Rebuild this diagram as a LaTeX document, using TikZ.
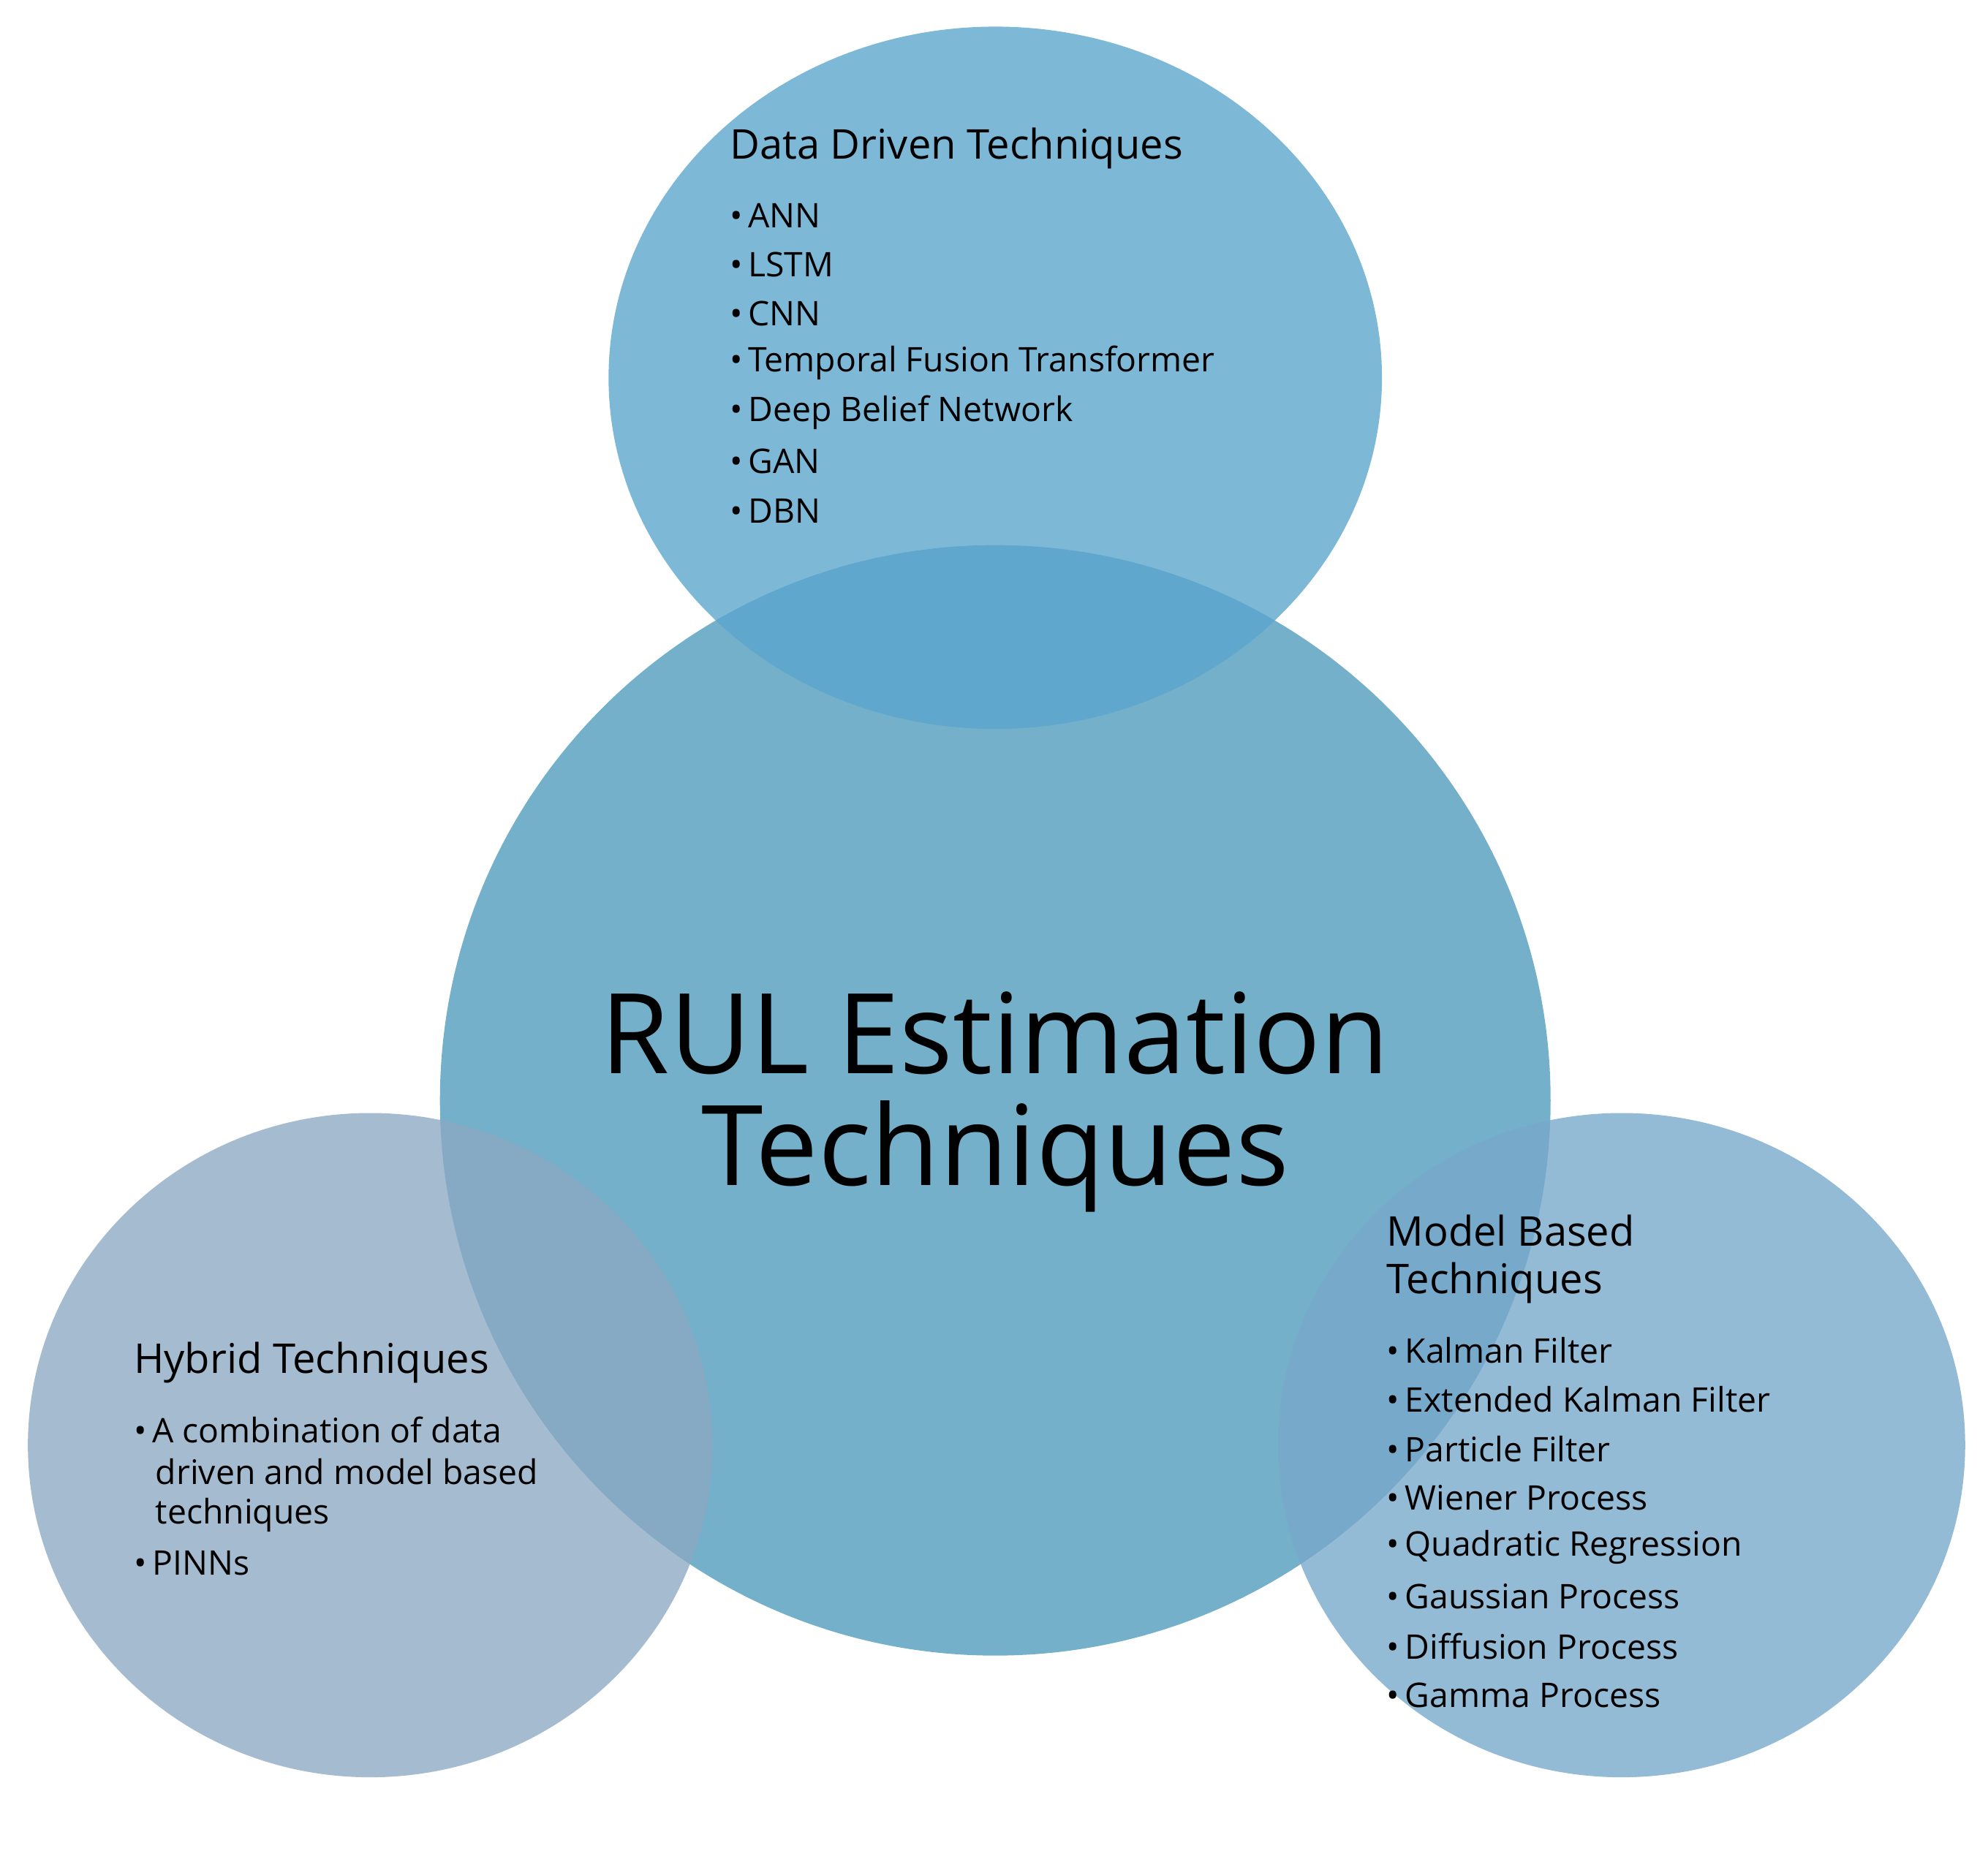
\documentclass[tikz,border=0pt]{standalone}
\usepackage{fontspec}
\setmainfont{Open Sans}
\begin{document}
\begin{tikzpicture}[x=0.01cm,y=-0.01cm,
  blob/.style={draw=none,fill opacity=0.78},
  head/.style={anchor=west,font=\fontsize{9.2pt}{11pt}\selectfont,inner sep=0},
  item/.style={anchor=west,font=\fontsize{7.6pt}{9pt}\selectfont,inner sep=0},
  title/.style={font=\fontsize{25pt}{30pt}\selectfont,inner sep=0}]
\useasboundingbox[fill=white] (0,0) rectangle (1568,1460);
\definecolor{cmain}{HTML}{4E9BBB}
\definecolor{ctop}{HTML}{5AA5CD}
\definecolor{cleft}{HTML}{8CA9C2}
\definecolor{cright}{HTML}{77A8CB}
\fill[blob,cmain] (785,868) circle (438);
\fill[blob,ctop] (785,298) ellipse (305 and 277);
\fill[blob,cleft] (292,1140) ellipse (270 and 262);
\fill[blob,cright] (1279,1140) ellipse (271 and 262);
\node[title] (t1) at (785,815) {RUL Estimation};
\node[title] (t2) at (785,912) {Techniques};
% Data driven
\node[head] (dh) at (575,117) {Data Driven Techniques};
\foreach \t [count=\i] in {ANN,LSTM,CNN,Temporal Fusion Transformer,Deep Belief Network,GAN,DBN}
  \node[item] (d\i) at (575,{170+38.8*(\i-1)}) {\textbullet\,\t};
% Hybrid
\node[head] (hh) at (105,1075) {Hybrid Techniques};
\node[item] (h1) at (105,1128) {\textbullet\,A combination of data};
\node[item] (h1b) at (122,1161) {driven and model based};
\node[item] (h1c) at (122,1195) {techniques};
\node[item] (h2) at (105,1233) {\textbullet\,PINNs};
% Model based
\node[head] (mh) at (1093,971) {Model Based};
\node[head] (mh2) at (1093,1012) {Techniques};
\foreach \t [count=\i] in {Kalman Filter,Extended Kalman Filter,Particle Filter,Wiener Process,Quadratic Regression,Gaussian Process,Diffusion Process,Gamma Process}
  \node[item] (m\i) at (1093,{1065+38.9*(\i-1)}) {\textbullet\,\t};
\end{tikzpicture}
\end{document}
